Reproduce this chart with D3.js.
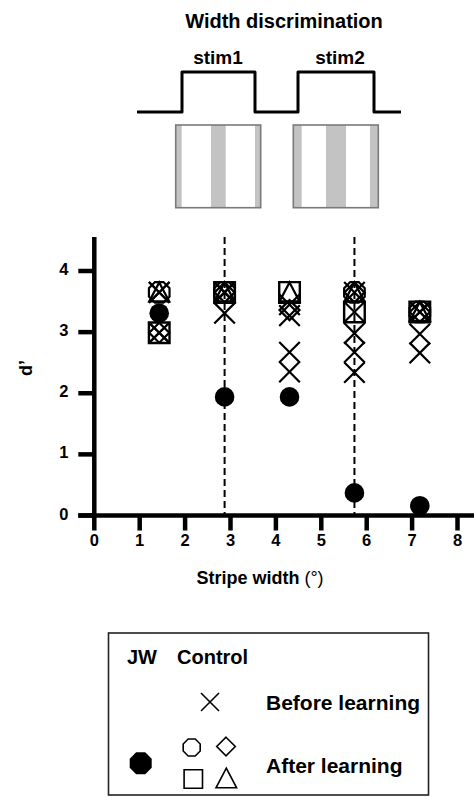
<!DOCTYPE html>
<html lang="en">
<head>
<meta charset="UTF-8">
<title>Width discrimination</title>
<style>
  body { margin: 0; padding: 0; background: #fff; }
  svg { display: block; font-family: "Liberation Sans", Arial, Helvetica, sans-serif; }
  .bold { font-weight: bold; }
</style>
</head>
<body>
<svg id="chart" width="474" height="797"></svg>
<script src="https://cdn.jsdelivr.net/npm/d3@7/dist/d3.min.js"></script>
<script>
// ---- data ----
const stripeWidths = [1.43, 2.87, 4.30, 5.73, 7.17];      // degrees
const xTicks = [0, 1, 2, 3, 4, 5, 6, 7, 8];
const yTicks = [0, 1, 2, 3, 4];
const trainedWidths = [2.87, 5.73];                        // dashed lines (stim widths)

// patient JW, after learning (filled circles)
const jwAfter = [3.31, 1.94, 1.94, 0.37, 0.16];

// controls before learning: all X marks found at each stripe width
const ctrlBefore = [
  [3.65, 3.65, 2.99, 2.99],
  [3.65, 3.65, 3.65, 3.31],
  [3.45, 3.27, 2.67, 2.35],
  [3.65, 3.33, 2.98, 2.67, 2.34],
  [3.33, 3.33, 2.97, 2.66]
];

// controls after learning, one symbol per subject
const ctrlOctagon  = [3.65, 3.65, null, 3.65, 3.33];
const ctrlDiamond  = [2.99, 3.65, 3.36, 3.65, 3.33];
const ctrlSquare   = [2.99, 3.65, 3.65, 3.33, 3.33];
const ctrlTriangle = [3.65, 3.65, 3.65, 3.65, 3.33];

// ---- setup ----
const svg = d3.select("#chart");

const x = d3.scaleLinear().domain([0, 8]).range([94.3, 457.5]);
const y = d3.scaleLinear().domain([0, 4]).range([515.5, 271]);

function markerPath(type, s) {
  const p = d3.path();
  if (type === "x") {
    p.moveTo(-s, -s); p.lineTo(s, s);
    p.moveTo(s, -s); p.lineTo(-s, s);
  } else if (type === "square") {
    p.rect(-s, -s, 2 * s, 2 * s);
  } else if (type === "diamond") {
    p.moveTo(0, -s); p.lineTo(s, 0); p.lineTo(0, s); p.lineTo(-s, 0); p.closePath();
  } else if (type === "triangle") {
    p.moveTo(0, -s); p.lineTo(s, s * 0.9); p.lineTo(-s, s * 0.9); p.closePath();
  } else if (type === "octagon") {
    const R = s / Math.cos(Math.PI / 8);
    for (let i = 0; i < 8; i++) {
      const a = Math.PI / 8 + i * Math.PI / 4;
      const px = R * Math.cos(a), py = R * Math.sin(a);
      if (i === 0) p.moveTo(px, py); else p.lineTo(px, py);
    }
    p.closePath();
  }
  return p.toString();
}

// ---- stimulus sketch ----
const stimG = svg.append("g");
stimG.append("text").attr("class", "bold")
  .attr("x", 284).attr("y", 28).attr("text-anchor", "middle")
  .style("font-size", "20px").text("Width discrimination");
stimG.append("text").attr("class", "bold")
  .attr("x", 218).attr("y", 64).attr("text-anchor", "middle")
  .style("font-size", "19px").text("stim1");
stimG.append("text").attr("class", "bold")
  .attr("x", 340).attr("y", 64).attr("text-anchor", "middle")
  .style("font-size", "19px").text("stim2");

const wave = [[137, 112], [182, 112], [182, 72], [255, 72], [255, 112],
              [298, 112], [298, 72], [374, 72], [374, 112], [401, 112]];
stimG.append("path")
  .attr("d", d3.line()(wave))
  .attr("fill", "none").attr("stroke", "#000").attr("stroke-width", 3)
  .attr("stroke-linejoin", "round");

const boxes = [
  { x0: 175.7, stripes: [[0, 6], [35.3, 50], [79.3, 85]] },
  { x0: 293.3, stripes: [[0, 8.4], [32.7, 52.7], [76.7, 85]] }
];
boxes.forEach(b => {
  const g = stimG.append("g").attr("transform", `translate(${b.x0},125)`);
  g.append("rect").attr("width", 85).attr("height", 82.7).attr("fill", "#fff");
  b.stripes.forEach(s => {
    g.append("rect").attr("x", s[0]).attr("width", s[1] - s[0])
      .attr("height", 82.7).attr("fill", "#c3c3c3");
  });
  g.append("rect").attr("width", 85).attr("height", 82.7)
    .attr("fill", "none").attr("stroke", "#7a7a7a").attr("stroke-width", 1.6);
});

// ---- axes ----
const axisW = 4.5;
const plot = svg.append("g");

// dashed lines at trained widths
plot.selectAll("line.dash").data(trainedWidths).join("line")
  .attr("class", "dash")
  .attr("x1", d => x(d)).attr("x2", d => x(d))
  .attr("y1", 237).attr("y2", y(0))
  .attr("stroke", "#000").attr("stroke-width", 2)
  .attr("stroke-dasharray", "7,4");

// y axis
plot.append("line").attr("x1", x(0)).attr("x2", x(0))
  .attr("y1", 237).attr("y2", y(0))
  .attr("stroke", "#000").attr("stroke-width", axisW);
plot.selectAll("line.ytick").data(yTicks).join("line")
  .attr("class", "ytick")
  .attr("x1", x(0) - 16).attr("x2", x(0))
  .attr("y1", d => y(d)).attr("y2", d => y(d))
  .attr("stroke", "#000").attr("stroke-width", axisW);
plot.selectAll("text.ylab").data(yTicks).join("text")
  .attr("class", "ylab bold")
  .attr("x", 68.5).attr("y", d => y(d) + 4)
  .attr("text-anchor", "end").style("font-size", "16.5px")
  .text(d => d);

// x axis
plot.append("line").attr("x1", x(0) - 16).attr("x2", 474)
  .attr("y1", y(0)).attr("y2", y(0))
  .attr("stroke", "#000").attr("stroke-width", axisW);
plot.selectAll("line.xtick").data(xTicks).join("line")
  .attr("class", "xtick")
  .attr("x1", d => x(d)).attr("x2", d => x(d))
  .attr("y1", y(0)).attr("y2", y(0) + 15)
  .attr("stroke", "#000").attr("stroke-width", axisW);
plot.selectAll("text.xlab").data(xTicks).join("text")
  .attr("class", "xlab bold")
  .attr("x", d => x(d)).attr("y", 545.5)
  .attr("text-anchor", "middle").style("font-size", "16.5px")
  .text(d => d);

const xTitle = plot.append("text").attr("class", "bold")
  .attr("x", 260).attr("y", 584).attr("text-anchor", "middle")
  .style("font-size", "18px");
xTitle.append("tspan").text("Stripe width");
xTitle.append("tspan").style("font-weight", "normal").text(" (\u00B0)");

plot.append("text").attr("class", "bold")
  .attr("transform", "translate(32,368) rotate(-90)")
  .attr("text-anchor", "middle").style("font-size", "18px")
  .text("d\u2019");

// ---- markers ----
const marks = plot.append("g").attr("fill", "none").attr("stroke", "#000");

const beforePts = [];
ctrlBefore.forEach((vals, i) => vals.forEach(v => beforePts.push([stripeWidths[i], v])));

function drawAfter(vals, type, s, sw) {
  marks.selectAll(null)
    .data(vals.map((v, i) => [stripeWidths[i], v]).filter(d => d[1] != null))
    .join("path")
    .attr("transform", d => `translate(${x(d[0])},${y(d[1])})`)
    .attr("d", markerPath(type, s))
    .attr("stroke-width", sw);
}
drawAfter(ctrlSquare, "square", 10.3, 2.4);
drawAfter(ctrlOctagon, "octagon", 10.3, 2.2);
drawAfter(ctrlDiamond, "diamond", 10, 2.2);
drawAfter(ctrlTriangle, "triangle", 10, 2.2);

marks.selectAll("path.before").data(beforePts).join("path")
  .attr("class", "before")
  .attr("transform", d => `translate(${x(d[0])},${y(d[1])})`)
  .attr("d", markerPath("x", 10.3))
  .attr("stroke-width", 2.2);

plot.selectAll("circle.jw").data(jwAfter).join("circle")
  .attr("class", "jw")
  .attr("cx", (d, i) => x(stripeWidths[i])).attr("cy", d => y(d))
  .attr("r", 9.8).attr("fill", "#000");

// ---- legend ----
const leg = svg.append("g");
leg.append("rect").attr("x", 108.5).attr("y", 633)
  .attr("width", 320).attr("height", 162)
  .attr("fill", "none").attr("stroke", "#222").attr("stroke-width", 1.6);

leg.append("text").attr("class", "bold").attr("x", 127).attr("y", 664)
  .style("font-size", "20px").text("JW");
leg.append("text").attr("class", "bold").attr("x", 177).attr("y", 664)
  .style("font-size", "20px").text("Control");
leg.append("text").attr("class", "bold").attr("x", 266).attr("y", 710)
  .style("font-size", "21px").text("Before learning");
leg.append("text").attr("class", "bold").attr("x", 266).attr("y", 773)
  .style("font-size", "21px").text("After learning");

const legMarks = [
  { type: "x", cx: 210, cy: 702, s: 9 },
  { type: "octagon", cx: 191.7, cy: 747.5, s: 8.5 },
  { type: "diamond", cx: 226, cy: 746.5, s: 9.3 },
  { type: "square", cx: 193.3, cy: 779, s: 9.2 },
  { type: "triangle", cx: 226.3, cy: 778.5, s: 10.3 }
];
leg.selectAll("path.lm").data(legMarks).join("path")
  .attr("class", "lm")
  .attr("transform", d => `translate(${d.cx},${d.cy})`)
  .attr("d", d => markerPath(d.type, d.s))
  .attr("fill", "none").attr("stroke", "#000").attr("stroke-width", 1.6);

leg.append("path")
  .attr("transform", "translate(140.7,763.3)")
  .attr("d", markerPath("octagon", 11))
  .attr("fill", "#000");
</script>
</body>
</html>
